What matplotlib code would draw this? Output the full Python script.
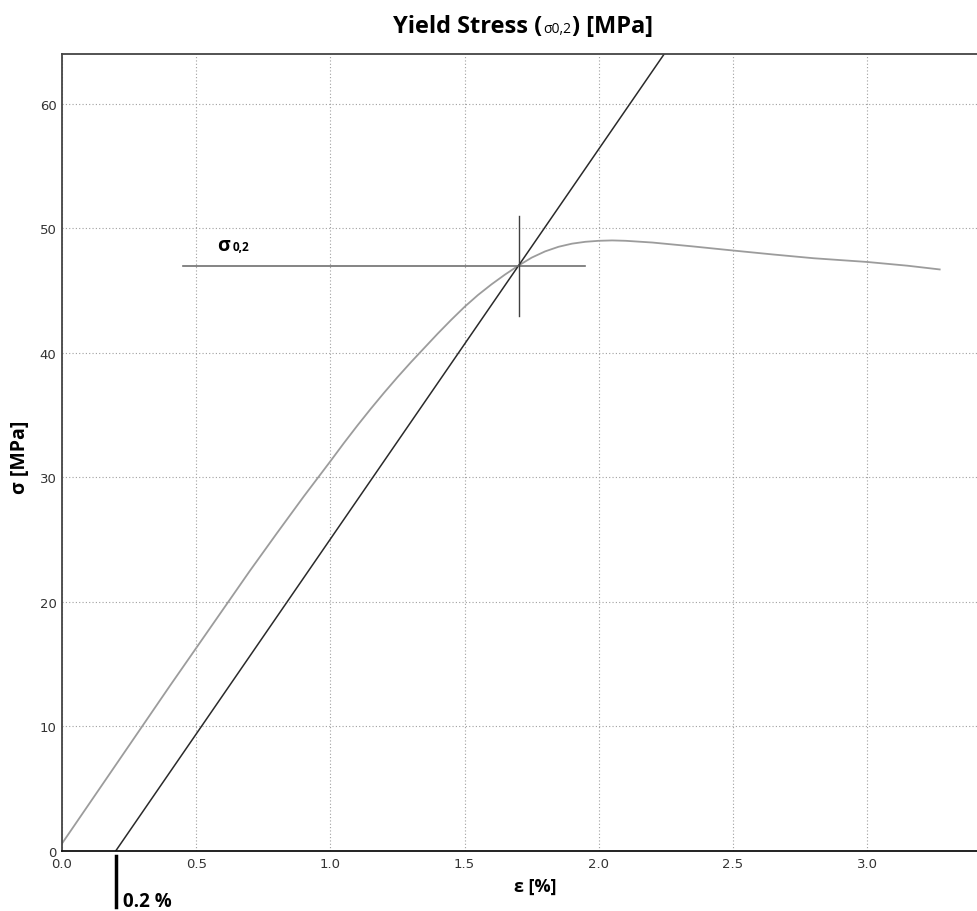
import matplotlib
matplotlib.use("Agg")
import matplotlib.pyplot as plt

# stress-strain curve
strain = [0.0, 0.2, 0.4, 0.6, 0.7, 0.8, 0.9, 1.0, 1.05, 1.1, 1.15, 1.2, 1.25, 1.3, 1.35,
          1.4, 1.45, 1.5, 1.55, 1.6, 1.65, 1.7, 1.75, 1.8, 1.85, 1.9, 1.95, 2.0, 2.05,
          2.1, 2.2, 2.35, 2.5, 2.65, 2.8, 3.0, 3.15, 3.27]
stress = [0.6, 6.9, 13.2, 19.4, 22.5, 25.5, 28.45, 31.3, 32.75, 34.15, 35.5, 36.8, 38.05, 39.25, 40.4,
          41.55, 42.65, 43.7, 44.65, 45.5, 46.28, 47.0, 47.65, 48.15, 48.52, 48.77, 48.92, 49.0, 49.03,
          49.0, 48.86, 48.55, 48.22, 47.9, 47.6, 47.3, 47.0, 46.7]

# 0.2 % offset line
offset_x = [0.2, 2.25]
offset_y = [0.0, 64.2]

# yield point marker
yield_x = 1.703
yield_y = 47.0
hline_x = [0.45, 1.95]
vline_y = [43.0, 51.0]

xticks = [0.0, 0.5, 1.0, 1.5, 2.0, 2.5, 3.0]
yticks = [0, 10, 20, 30, 40, 50, 60]

W, H = 977, 912
fig = plt.figure(figsize=(W / 100, H / 100), dpi=100)
ax = fig.add_axes([62 / W, 1 - 852 / H, 926 / W, (852 - 55) / H])

ax.plot(strain, stress, color="#9c9c9c", lw=1.3)
ax.plot(offset_x, offset_y, color="#2a2a2a", lw=1.1)
ax.plot(hline_x, [yield_y, yield_y], color="#707070", lw=1.2)
ax.plot([yield_x, yield_x], vline_y, color="#404040", lw=1.0)

ax.set_xlim(0, 3.45)
ax.set_ylim(0, 64)
ax.set_xticks(xticks)
ax.set_yticks(yticks)
ax.set_xticklabels(["%.1f" % v for v in xticks])
ax.tick_params(length=0, labelsize=9.5, colors="#333333", pad=4)
ax.grid(True, linestyle=(0, (1, 2)), color="#a0a0a0", lw=0.8)
ax.spines["right"].set_visible(False)
for s in ["left", "bottom", "top"]:
    ax.spines[s].set_linewidth(1.3)
ax.spines["left"].set_color("#444444")
ax.spines["top"].set_color("#444444")
ax.spines["bottom"].set_color("#111111")

font = "Open Sans"

# sigma_0,2 label
ax.text(0.578, 48.3, "σ", fontsize=14, fontweight="bold", family=font, va="baseline")
ax.text(0.637, 48.3, "0,2", fontsize=8.5, fontweight="bold", family=font, va="baseline")

# title made of pieces
fig.canvas.draw()
r = fig.canvas.get_renderer()
x0 = 393 / W
yb = 1 - 33 / H
parts = [("Yield Stress (", 17, "bold"), ("σ0,2", 10, "normal"), (") [MPa]", 17, "bold")]
for txt, fs, fw in parts:
    t = fig.text(x0, yb, txt, fontsize=fs, fontweight=fw, family=font, va="baseline")
    bb = t.get_window_extent(r)
    x0 = bb.x1 / W + 1 / W

fig.text(535 / W, 1 - 887 / H, "ε [%]", fontsize=13, fontweight="bold", family=font,
         ha="center", va="center")
fig.text(20 / W, 1 - 457 / H, "σ [MPa]", fontsize=14, fontweight="bold", family=font,
         ha="center", va="center", rotation=90)

# 0.2 % marker under the axis
bx = ax.transData.transform((0.2, 0))[0] / W
fig.add_artist(plt.Line2D([bx, bx], [1 - 857 / H, 1 - 908 / H], color="black", lw=2.5,
                          transform=fig.transFigure))
fig.text(bx + 7 / W, 1 - 907 / H, "0.2 %", fontsize=13.5, fontweight="bold", family=font,
         va="baseline")

fig.savefig("out.png", dpi=100)
